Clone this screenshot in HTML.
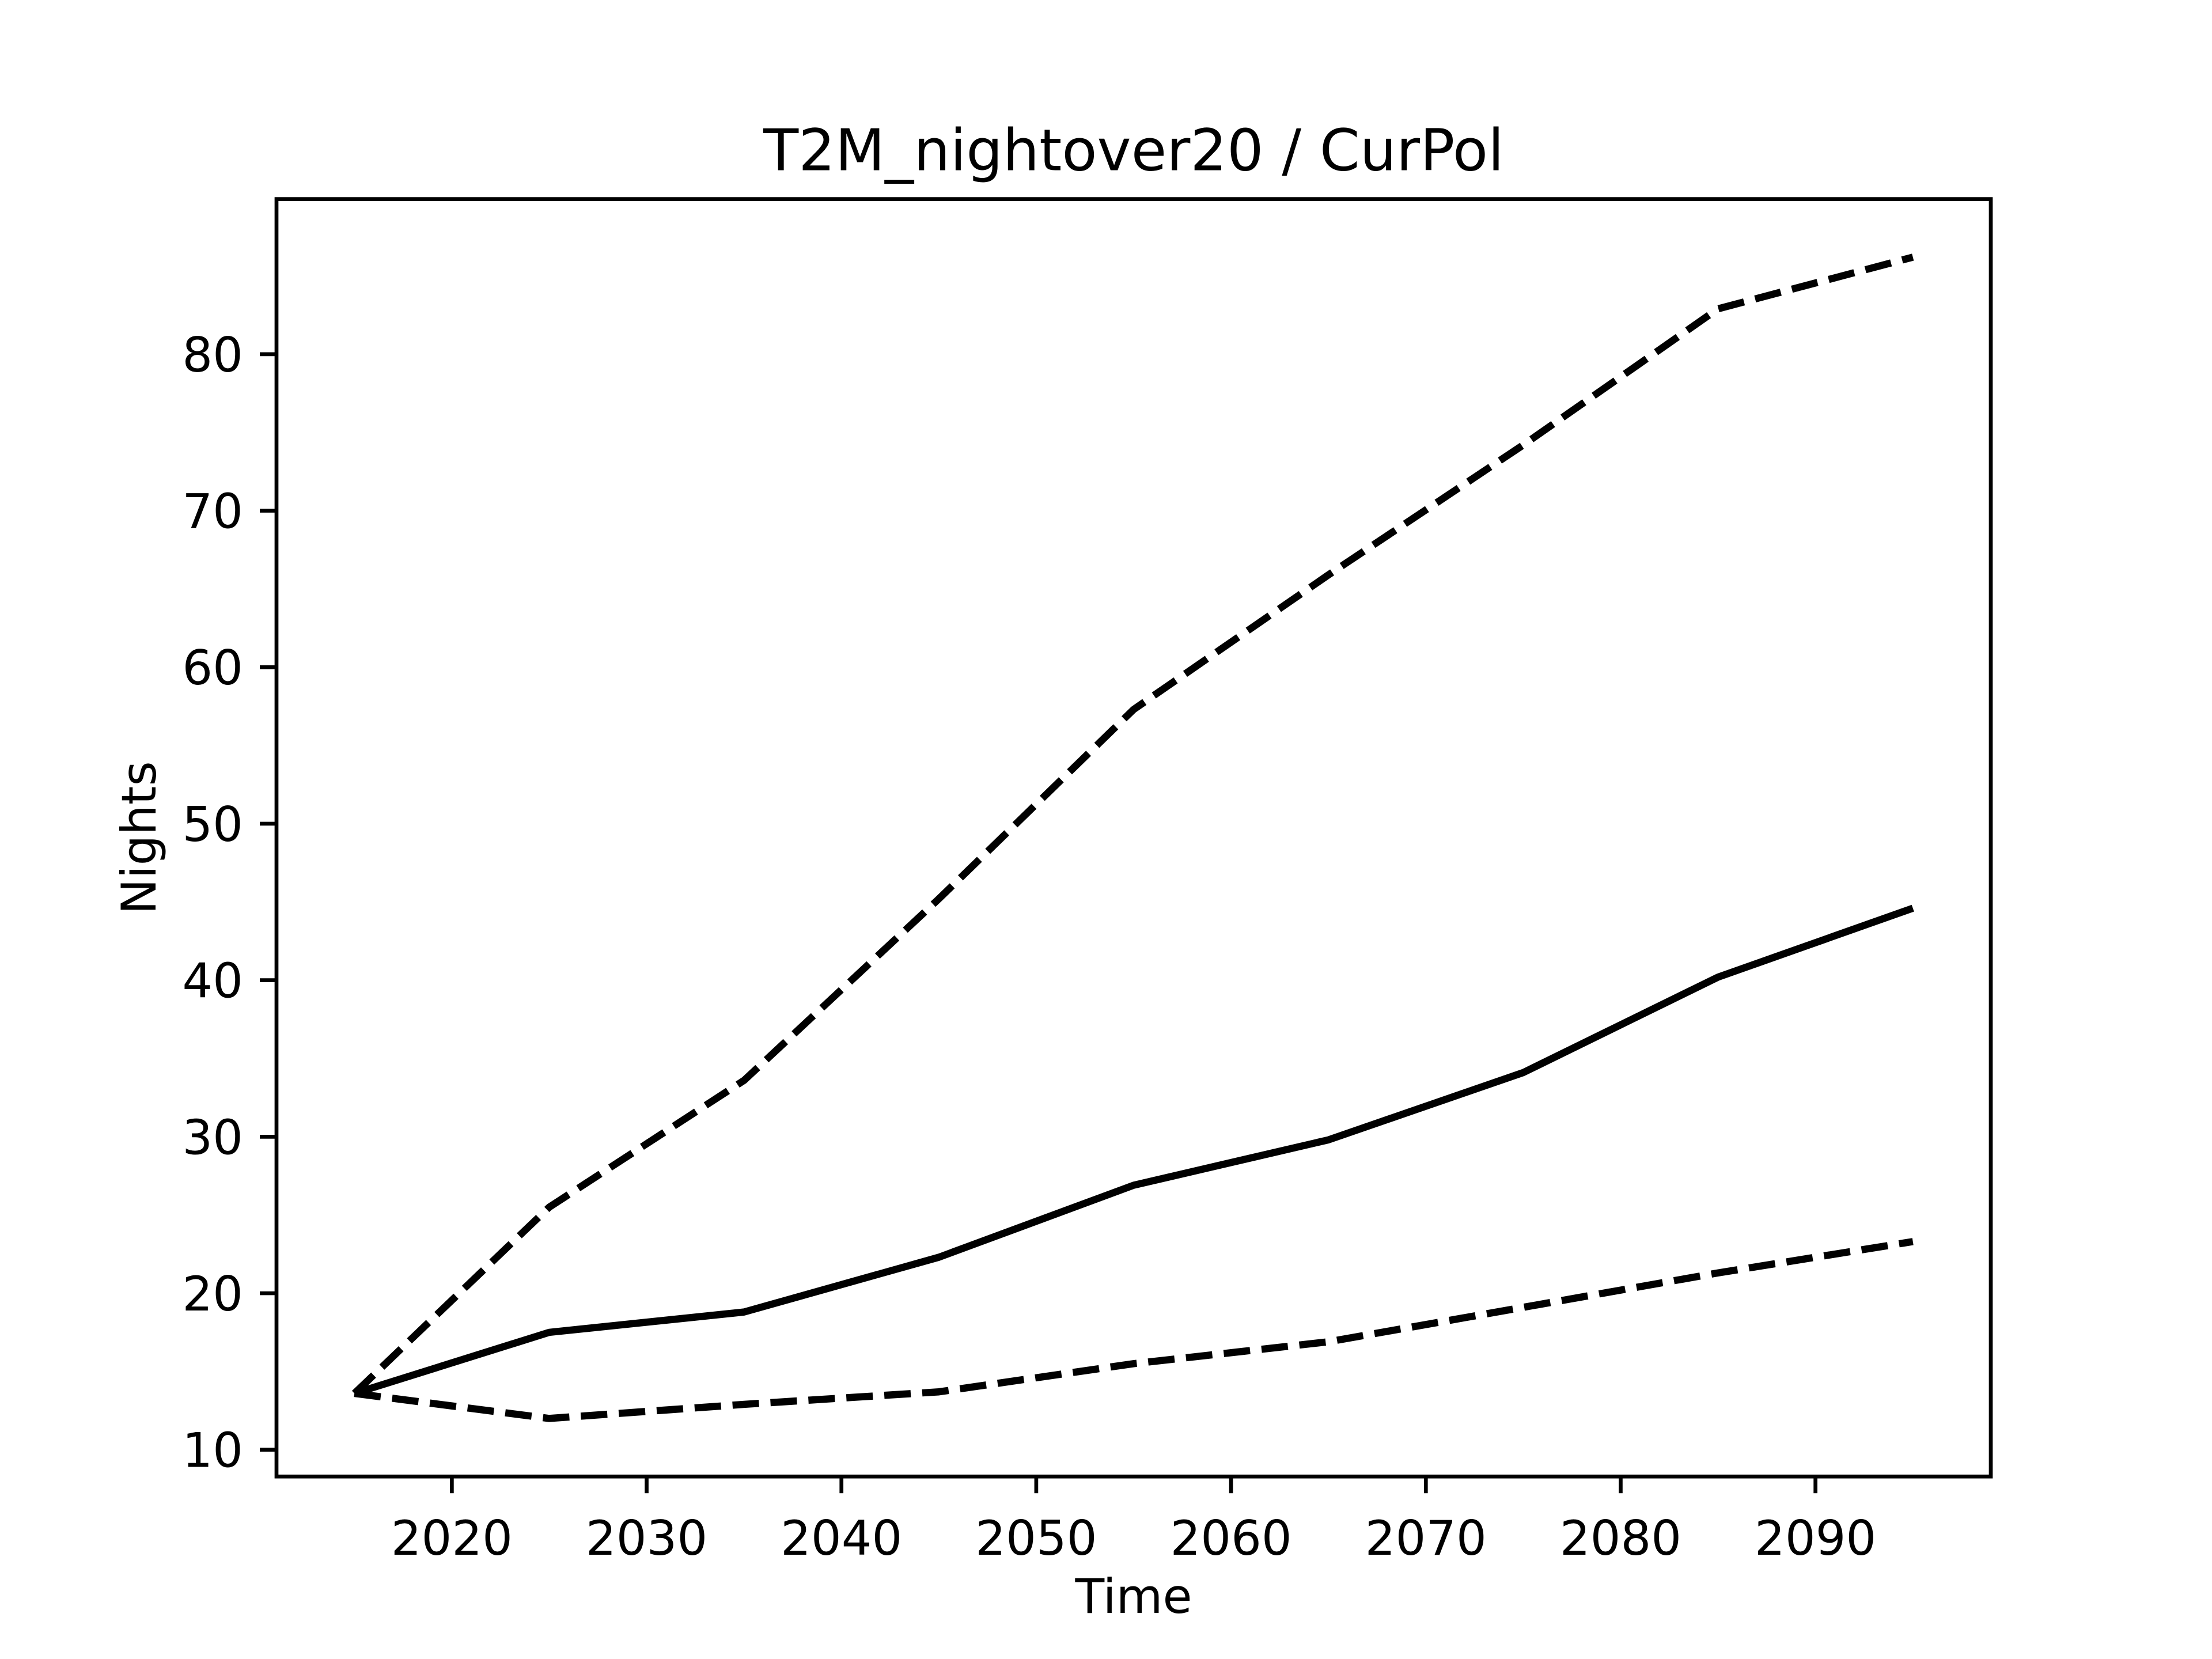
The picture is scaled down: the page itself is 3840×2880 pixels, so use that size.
<!DOCTYPE html>
<html><head><meta charset="utf-8"><style>
html,body{margin:0;padding:0;background:#fff;}
svg{display:block;font-family:"DejaVu Sans","Liberation Sans",sans-serif;}
</style></head><body>
<svg id="chart" width="3840" height="2880" viewBox="0 0 3840 2880">
<rect width="3840" height="2880" fill="#fff"/>
<g id="plot"></g>
</svg>
<script>
const years = [2015, 2025, 2035, 2045, 2055, 2065, 2075, 2085, 2095];
const medianSeries = [13.6, 17.5, 18.8, 22.3, 26.9, 29.8, 34.1, 40.2, 44.6];
const upperSeries = [13.6, 25.5, 33.6, 45.2, 57.3, 65.9, 74.2, 82.9, 86.2];
const lowerSeries = [13.6, 12.0, 12.9, 13.7, 15.5, 16.9, 19.1, 21.3, 23.3];
const xTicks = [2020, 2030, 2040, 2050, 2060, 2070, 2080, 2090];
const yTicks = [10, 20, 30, 40, 50, 60, 70, 80];

const NS = "http://www.w3.org/2000/svg";
const L = 480, R = 3456, T = 345.6, B = 2563.2;
const allVals = medianSeries.concat(upperSeries, lowerSeries);
const xmin0 = Math.min(...years), xmax0 = Math.max(...years);
const ymin0 = Math.min(...allVals), ymax0 = Math.max(...allVals);
const xm = (xmax0 - xmin0) * 0.05, ym = (ymax0 - ymin0) * 0.05;
const xMin = xmin0 - xm, xMax = xmax0 + xm, yMin = ymin0 - ym, yMax = ymax0 + ym;
const sx = v => L + (v - xMin) / (xMax - xMin) * (R - L);
const sy = v => B - (v - yMin) / (yMax - yMin) * (B - T);
const g = document.getElementById('plot');
function mk(tag, attrs) { const e = document.createElementNS(NS, tag); for (const k in attrs) e.setAttribute(k, attrs[k]); return e; }

function series(vals, dashed, name) {
  const pts = years.map((y, i) => sx(y) + ',' + sy(vals[i])).join(' ');
  const p = mk('polyline', { points: pts, fill: 'none', stroke: '#000', 'stroke-width': 12.5, 'stroke-linejoin': 'round' });
  if (dashed) p.setAttribute('stroke-dasharray', '46 20');
  
  
  g.appendChild(p);
}
series(upperSeries, true, 'upper-bound-line');
series(lowerSeries, true, 'lower-bound-line');
series(medianSeries, false, 'median-line');

const frame = mk('rect', { x: L, y: T, width: R - L, height: B - T, fill: 'none', stroke: '#000', 'stroke-width': 6.7 });


g.appendChild(frame);

xTicks.forEach(t => {
  const x = sx(t);
  const ln = mk('line', { x1: x, x2: x, y1: B, y2: B + 29, stroke: '#000', 'stroke-width': 6.7 });
  
  
  g.appendChild(ln);
  const tx = mk('text', { x: x, y: B + 29 + 29 + 78, 'text-anchor': 'middle', 'font-size': 83 });
  tx.textContent = t;
  
  
  g.appendChild(tx);
});
yTicks.forEach(t => {
  const y = sy(t);
  const ln = mk('line', { x1: L - 29, x2: L, y1: y, y2: y, stroke: '#000', 'stroke-width': 6.7 });
  
  
  g.appendChild(ln);
  const tx = mk('text', { x: L - 58, y: y + 30, 'text-anchor': 'end', 'font-size': 83 });
  tx.textContent = t;
  
  
  g.appendChild(tx);
});

const title = mk('text', { x: (L + R) / 2, y: T - 50, 'text-anchor': 'middle', 'font-size': 100 });
title.textContent = 'T2M_nightover20 / CurPol';


g.appendChild(title);

const xl = mk('text', { x: (L + R) / 2, y: 2800, 'text-anchor': 'middle', 'font-size': 83 });
xl.textContent = 'Time';


g.appendChild(xl);

const yl = mk('text', { x: 0, y: 0, 'text-anchor': 'middle', 'font-size': 83, transform: 'translate(270,' + ((T + B) / 2) + ') rotate(-90)' });
yl.textContent = 'Nights';


g.appendChild(yl);
</script>
</body></html>
